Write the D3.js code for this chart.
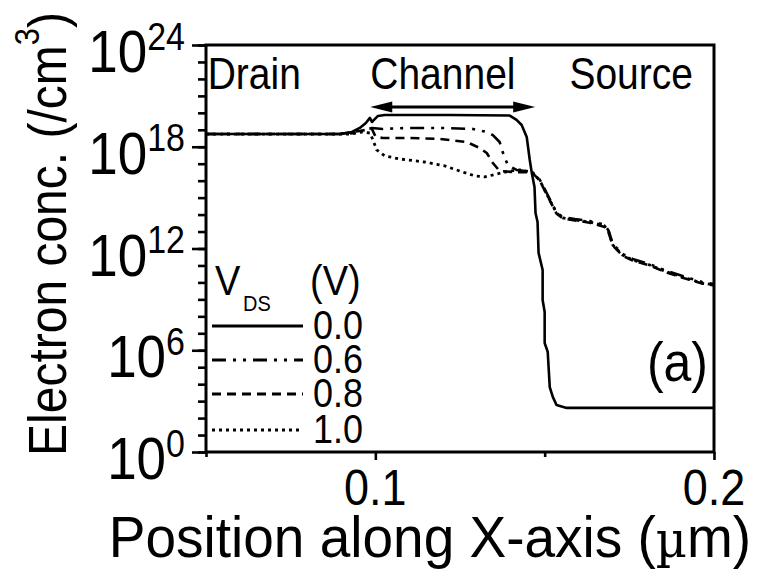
<!DOCTYPE html>
<html>
<head>
<meta charset="utf-8">
<script src="https://cdn.jsdelivr.net/npm/d3@7"></script>
<style>
  html, body { margin: 0; padding: 0; background: #fff; }
  svg { display: block; }
  text { font-family: "Liberation Sans", Arial, Helvetica, sans-serif; fill: #000; }
</style>
</head>
<body>
<svg id="chart" width="760" height="571"></svg>
<script>
// Electron concentration along the channel for several drain biases.
// Positions in µm, concentrations stored as log10(n / cm^-3).

const vdsLabels = ["0.0", "0.6", "0.8", "1.0"];

const posV00 = [0.0500, 0.0777, 0.0895, 0.0931, 0.0954, 0.0972, 0.0984, 0.0990, 0.0996, 0.1007, 0.1028, 0.1220, 0.1397, 0.1417, 0.1432, 0.1447, 0.1456, 0.1462, 0.1470, 0.1473, 0.1479, 0.1482, 0.1494, 0.1494, 0.1500, 0.1500, 0.1509, 0.1515, 0.1524, 0.1535, 0.1565, 0.2000];
const logV00 = [18.75, 18.75, 18.75, 18.87, 19.11, 19.40, 19.70, 19.46, 19.58, 19.81, 19.87, 19.87, 19.84, 19.58, 19.28, 18.58, 17.22, 16.45, 15.63, 14.09, 13.56, 11.74, 10.73, 8.96, 8.26, 6.43, 5.90, 3.83, 3.25, 2.77, 2.60, 2.60];

const posV06 = [0.0500, 0.0895, 0.0940, 0.0969, 0.0990, 0.1022, 0.1093, 0.1190, 0.1288, 0.1329, 0.1347, 0.1367, 0.1376, 0.1391, 0.1417, 0.1462, 0.1485, 0.1515, 0.1535, 0.1553, 0.1589, 0.1633, 0.1677, 0.1689, 0.1701, 0.1730, 0.1760, 0.1810, 0.1860, 0.1907, 0.1965, 0.2000];
const logV06 = [18.75, 18.75, 18.81, 18.99, 19.11, 19.05, 19.11, 19.11, 19.05, 18.87, 18.69, 18.28, 17.69, 16.92, 16.63, 16.53, 16.08, 14.92, 14.13, 13.86, 13.74, 13.62, 13.40, 13.05, 12.27, 11.68, 11.38, 11.08, 10.68, 10.38, 10.02, 9.90];

const posV08 = [0.0500, 0.0895, 0.0954, 0.0990, 0.1001, 0.1022, 0.1093, 0.1190, 0.1270, 0.1308, 0.1329, 0.1347, 0.1367, 0.1411, 0.1462, 0.1485, 0.1515, 0.1535, 0.1553, 0.1589, 0.1633, 0.1677, 0.1689, 0.1701, 0.1730, 0.1760, 0.1810, 0.1860, 0.1907, 0.1965, 0.2000];
const logV08 = [18.75, 18.75, 18.93, 19.05, 18.58, 18.52, 18.52, 18.46, 18.28, 17.93, 17.63, 17.04, 16.57, 16.51, 16.49, 16.02, 14.84, 14.06, 13.78, 13.66, 13.52, 13.27, 12.93, 12.17, 11.58, 11.28, 11.00, 10.58, 10.28, 9.94, 9.82];

const posV10 = [0.0500, 0.0925, 0.0960, 0.0984, 0.0993, 0.1004, 0.1028, 0.1072, 0.1146, 0.1205, 0.1249, 0.1294, 0.1323, 0.1358, 0.1397, 0.1426, 0.1462, 0.1485, 0.1515, 0.1535, 0.1553, 0.1589, 0.1633, 0.1677, 0.1689, 0.1701, 0.1730, 0.1760, 0.1810, 0.1860, 0.1907, 0.1965, 0.2000];
const logV10 = [18.75, 18.75, 18.87, 18.81, 18.40, 17.81, 17.46, 17.28, 17.10, 16.87, 16.57, 16.28, 16.22, 16.39, 16.57, 16.63, 16.51, 16.04, 14.86, 14.09, 13.80, 13.68, 13.56, 13.33, 12.97, 12.21, 11.62, 11.32, 11.03, 10.62, 10.32, 9.96, 9.85];

const xMajorTicks = [0.1, 0.2];
const xMinorTicks = [0.05, 0.15];
const yMajorExps = [0, 6, 12, 18, 24];
const yMinorExps = d3.range(0, 25);

const channelSpan = [0.0985, 0.1472];  // channel extent marked by the arrow
const channelArrowLevel = 20.35;

const regionLabels = [
  { text: "Drain", x: 0.0505 },
  { text: "Channel", x: 0.0985 },
  { text: "Source", x: 0.1573 }
];

// ---------------------------------------------------------------
const svg = d3.select("#chart");
const plot = { left: 206, right: 714, top: 45, bottom: 452 };
const STRETCH = 1.12;   // the typeface is drawn slightly taller than it is wide

const x = d3.scaleLinear().domain([0.05, 0.2]).range([plot.left, plot.right]);
const y = d3.scaleLinear().domain([0, 24]).range([plot.bottom, plot.top]);

const styles = [
  { dash: null, width: 2.6 },
  { dash: "14,7,3,7,3,7", width: 2.6 },
  { dash: "9,6", width: 2.6 },
  { dash: "3,4", width: 2.8 }
];

const series = [
  { pos: posV00, log: logV00 },
  { pos: posV06, log: logV06 },
  { pos: posV08, log: logV08 },
  { pos: posV10, log: logV10 }
].map((s, i) => ({
  label: vdsLabels[i],
  style: styles[i],
  points: s.pos.map((p, j) => [p, s.log[j]])
}));

function stretchedText(parent, px, py, anchor, size, stretch = STRETCH) {
  return parent.append("text")
    .attr("transform", `translate(${px},${py}) scale(1,${stretch})`)
    .attr("text-anchor", anchor)
    .attr("font-size", size);
}

// curves
const line = d3.line().x(d => x(d[0])).y(d => y(d[1]));
const curves = svg.append("g").attr("fill", "none").attr("stroke", "#000");
series.slice().reverse().forEach(s => {
  curves.append("path")
    .attr("d", line(s.points))
    .attr("stroke-width", s.style.width)
    .attr("stroke-dasharray", s.style.dash)
    .attr("stroke-linejoin", "round");
});

// axes: y (log decades, outward ticks)
const yMinorAxis = d3.axisLeft(y).tickValues(yMinorExps).tickSize(8).tickFormat("");
const yMajorAxis = d3.axisLeft(y).tickValues(yMajorExps).tickSize(14).tickFormat("");
[yMinorAxis, yMajorAxis].forEach(ax => {
  const g = svg.append("g").attr("transform", `translate(${plot.left},0)`).call(ax);
  g.select(".domain").remove();
  g.selectAll(".tick line").attr("stroke", "#000").attr("stroke-width", 2.6);
});

const xMinorAxis = d3.axisBottom(x).tickValues(xMinorTicks).tickSize(5).tickFormat("");
const xMajorAxis = d3.axisBottom(x).tickValues(xMajorTicks).tickSize(8).tickFormat("");
[xMinorAxis, xMajorAxis].forEach(ax => {
  const g = svg.append("g").attr("transform", `translate(0,${plot.bottom})`).call(ax);
  g.select(".domain").remove();
  g.selectAll(".tick line").attr("stroke", "#000").attr("stroke-width", 2.6);
});

// frame
svg.append("rect")
  .attr("x", plot.left).attr("y", plot.top)
  .attr("width", plot.right - plot.left).attr("height", plot.bottom - plot.top)
  .attr("fill", "none").attr("stroke", "#000").attr("stroke-width", 3);

// y tick labels 10^n
yMajorExps.forEach(e => {
  const t = stretchedText(svg, 185, y(e) + 27, "end", 53);
  t.append("tspan").text("10");
  t.append("tspan").attr("font-size", 34).attr("dy", -20).text(e);
});

// x tick labels
xMajorTicks.forEach(v => {
  stretchedText(svg, x(v), 505, "middle", 45).text(d3.format(".1f")(v));
});

// axis titles
stretchedText(svg, 430, 557, "middle", 55, 1.06)
  .call(t => {
    t.append("tspan").text("Position along X-axis (");
    t.append("tspan").attr("font-family", "'DejaVu Serif', serif").attr("font-size", 48).text("\u00b5");
    t.append("tspan").text("m)");
  });

svg.append("text")
  .attr("transform", `translate(66,234) rotate(-90) scale(1,${STRETCH})`)
  .attr("text-anchor", "middle")
  .attr("font-size", 48)
  .call(t => {
    t.append("tspan").text("Electron conc. (/cm");
    t.append("tspan").attr("font-size", 31).attr("dy", -24).text("3");
    t.append("tspan").attr("dy", 24).text(")");
  });

// region labels
regionLabels.forEach(r => {
  stretchedText(svg, x(r.x), 89, "start", 39).text(r.text);
});

// channel arrow
const arrowY = y(channelArrowLevel);
const ax0 = x(channelSpan[0]), ax1 = x(channelSpan[1]);
svg.append("line")
  .attr("x1", ax0 + 10).attr("x2", ax1 - 10)
  .attr("y1", arrowY).attr("y2", arrowY)
  .attr("stroke", "#000").attr("stroke-width", 3);
svg.append("path")
  .attr("d", `M${ax0},${arrowY} L${ax0 + 22},${arrowY - 5.5} L${ax0 + 22},${arrowY + 5.5} Z`)
  .attr("fill", "#000");
svg.append("path")
  .attr("d", `M${ax1},${arrowY} L${ax1 - 22},${arrowY - 5.5} L${ax1 - 22},${arrowY + 5.5} Z`)
  .attr("fill", "#000");

// legend
const legend = svg.append("g");
stretchedText(legend, 215, 295, "start", 38).text("V");
stretchedText(legend, 243, 311, "start", 20).text("DS");
stretchedText(legend, 310, 295, "start", 38).text("(V)");

const rowY = [326, 360, 394, 430];
series.forEach((s, i) => {
  legend.append("line")
    .attr("x1", 212).attr("x2", 303)
    .attr("y1", rowY[i]).attr("y2", rowY[i])
    .attr("stroke", "#000")
    .attr("stroke-width", 3)
    .attr("stroke-dasharray", s.style.dash);
  stretchedText(legend, 313, rowY[i] + 13, "start", 36).text(s.label);
});

// panel tag
stretchedText(svg, 708, 381, "end", 50).text("(a)");
</script>
</body>
</html>
